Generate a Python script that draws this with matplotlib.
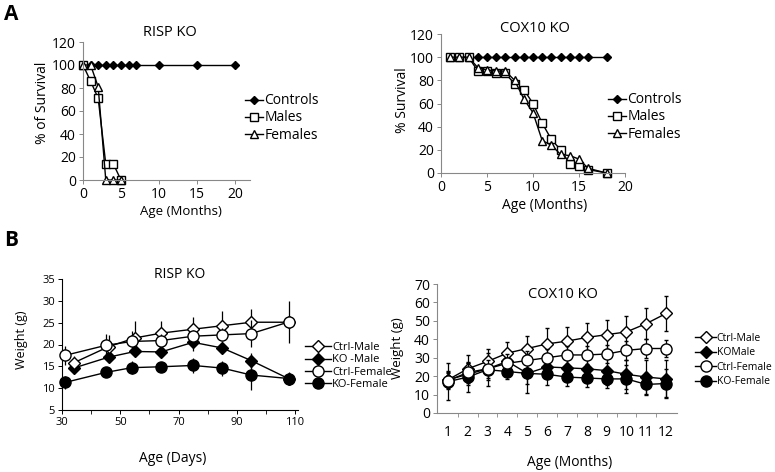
import matplotlib.pyplot as plt
import numpy as np
from matplotlib.lines import Line2D

plt.rcParams['font.family'] = ['Open Sans', 'DejaVu Sans']

# ---- A: survival ----
risp_ctrl_x = [0, 1, 2, 3, 4, 5, 6, 7, 10, 15, 20]
risp_ctrl_y = [100] * 11
risp_male_x = [0, 1, 2, 3, 4, 5]
risp_male_y = [100, 86, 71, 14, 14, 0]
risp_fem_x = [0, 1, 2, 3, 4, 5]
risp_fem_y = [100, 100, 81, 0, 0, 0]

cox_ctrl_x = list(range(1, 17)) + [18]
cox_ctrl_y = [100] * 17
cox_x = list(range(1, 17)) + [18]
cox_male_y = [100, 100, 100, 88, 88, 86, 86, 77, 72, 60, 43, 29, 20, 8, 6, 3, 0]
cox_fem_y = [100, 100, 100, 91, 89, 88, 88, 80, 64, 52, 28, 24, 16, 15, 12, 4, 0]

# ---- B: weights ----
risp_days_m = [34, 46, 55, 64, 75, 85, 95, 108]
risp_days_f = [31, 45, 54, 64, 75, 85, 95, 108]
risp_ctrl_m = [15.8, 19.5, 21.5, 22.6, 23.5, 24.3, 25.1, 25.1]
risp_ctrl_m_err = [1.6, 2.7, 3.9, 2.8, 2.9, 3.3, 3.0, 0.5]
risp_ko_m = [14.6, 17.1, 18.4, 18.3, 20.5, 19.2, 16.3, 12.1]
risp_ko_m_err = [0.8, 1.0, 0.9, 1.2, 2.0, 1.0, 1.8, 1.0]
risp_ctrl_f = [17.5, 19.8, 20.7, 20.9, 21.9, 22.2, 22.5, 25.2]
risp_ctrl_f_err = [2.2, 2.7, 2.4, 1.5, 1.5, 1.5, 3.0, 4.8]
risp_ko_f = [11.3, 13.6, 14.7, 14.9, 15.2, 14.6, 13.0, 12.2]
risp_ko_f_err = [1.5, 1.0, 1.5, 1.0, 1.8, 1.7, 3.5, 1.5]

months = list(range(1, 13))
cox_ctrl_m = [18, 24, 28, 32.5, 35, 37.5, 39, 41, 42.5, 44, 48.5, 54]
cox_ctrl_m_err = [4, 7.5, 6.5, 6, 7, 8.5, 7.5, 8, 8, 8.5, 8.5, 9.5]
cox_ko_m = [18, 21, 24, 28, 21.5, 25, 24.5, 24, 23, 21, 19.5, 18.5]
cox_ko_m_err = [5, 6, 6, 5, 6, 6, 6, 7, 8, 8, 9, 10]
cox_ctrl_f = [17.5, 22, 24, 27, 28.5, 30, 31.5, 31.5, 32, 34, 35, 35]
cox_ctrl_f_err = [4, 5, 5, 5, 5, 5, 5, 5, 5, 5, 5, 4.5]
cox_ko_f = [17, 19.5, 23.5, 22.5, 21.5, 21, 19.5, 19, 18.5, 18.5, 15.5, 16]
cox_ko_f_err = [10, 8, 9, 4, 10.5, 6, 5, 5, 5, 7.5, 6, 8]

W, H = 775, 472
fig = plt.figure(figsize=(W / 100, H / 100), dpi=100)


def box(l, t, r, b):
    return [l / W, 1 - b / H, (r - l) / W, (b - t) / H]


def ftext(x, y, s, **kw):
    fig.text(x / W, 1 - y / H, s, ha='center', va='center', **kw)


def style(ax, fs):
    for s in ['top', 'right']:
        ax.spines[s].set_visible(False)
    for s in ['left', 'bottom']:
        ax.spines[s].set_color('#888888')
        ax.spines[s].set_linewidth(0.8)
    ax.tick_params(labelsize=fs, length=3, width=0.7, color='#888888', pad=2)


# A left
ax1 = fig.add_axes(box(83, 42, 250, 180))
ax1.plot(risp_ctrl_x, risp_ctrl_y, marker='D', mfc='black', mec='black', ms=4.5, color='black', lw=1.0, label='Controls', clip_on=False)
ax1.plot(risp_male_x, risp_male_y, marker='s', mfc='white', mec='black', ms=6, color='black', lw=1.0, label='Males', clip_on=False)
ax1.plot(risp_fem_x, risp_fem_y, marker='^', mfc='white', mec='black', ms=6, color='black', lw=1.0, label='Females', clip_on=False)
ax1.set_xlim(0, 22)
ax1.set_ylim(0, 120)
ax1.set_xticks([0, 5, 10, 15, 20])
ax1.set_yticks(range(0, 121, 20))
style(ax1, 10)
ax1.legend(loc='center left', bbox_to_anchor=(238 / W, 1 - 118 / H), bbox_transform=fig.transFigure,
           frameon=False, fontsize=10, handlelength=1.3, handletextpad=0.1, labelspacing=0.15, borderpad=0)

# A right
ax2 = fig.add_axes(box(441, 34, 625, 173))
ax2.plot(cox_ctrl_x, cox_ctrl_y, marker='D', mfc='black', mec='black', ms=4.5, color='black', lw=1.0, label='Controls', clip_on=False)
ax2.plot(cox_x, cox_male_y, marker='s', mfc='white', mec='black', ms=6, color='black', lw=1.0, label='Males', clip_on=False)
ax2.plot(cox_x, cox_fem_y, marker='^', mfc='white', mec='black', ms=6, color='black', lw=1.0, label='Females', clip_on=False)
ax2.set_xlim(0, 20)
ax2.set_ylim(0, 120)
ax2.set_xticks([0, 5, 10, 15, 20])
ax2.set_yticks(range(0, 121, 20))
style(ax2, 10)
ax2.legend(loc='center left', bbox_to_anchor=(601 / W, 1 - 117 / H), bbox_transform=fig.transFigure,
           frameon=False, fontsize=10, handlelength=1.3, handletextpad=0.1, labelspacing=0.15, borderpad=0)

# B left
ax3 = fig.add_axes(box(62, 279, 298, 410))
eb = dict(color='black', lw=1.0, elinewidth=0.9, clip_on=False)
ax3.errorbar(risp_days_m, risp_ctrl_m, yerr=[np.zeros(8), risp_ctrl_m_err], marker='D', mfc='white', mec='black', ms=6, capsize=0, zorder=4, **eb)
ax3.errorbar(risp_days_m, risp_ko_m, yerr=risp_ko_m_err, marker='D', mfc='black', mec='black', ms=6, capsize=0, zorder=3, **eb)
ax3.errorbar(risp_days_f, risp_ctrl_f, yerr=risp_ctrl_f_err, marker='o', mfc='white', mec='black', ms=8, capsize=0, zorder=5, **eb)
ax3.errorbar(risp_days_f, risp_ko_f, yerr=risp_ko_f_err, marker='o', mfc='black', mec='black', ms=8, capsize=0, zorder=3, **eb)
ax3.set_xlim(30, 111)
ax3.set_ylim(5, 35)
ax3.set_xticks([30, 50, 70, 90, 110])
ax3.set_xticks(range(40, 111, 20), minor=True)
ax3.set_yticks(range(5, 36, 5))
style(ax3, 8)
for s in ['left', 'bottom']:
    ax3.spines[s].set_color('black')
ax3.tick_params(which='both', color='black', length=3)
h3 = [Line2D([], [], color='black', lw=1.0, marker='D', mfc='white', mec='black', ms=6),
      Line2D([], [], color='black', lw=1.0, marker='D', mfc='black', mec='black', ms=6),
      Line2D([], [], color='black', lw=1.0, marker='o', mfc='white', mec='black', ms=8),
      Line2D([], [], color='black', lw=1.0, marker='o', mfc='black', mec='black', ms=8)]
ax3.legend(h3, ['Ctrl-Male', 'KO -Male', 'Ctrl-Female', 'KO-Female'], loc='center left',
           bbox_to_anchor=(299 / W, 1 - 366 / H), bbox_transform=fig.transFigure,
           frameon=False, fontsize=8, handlelength=2.4, handletextpad=0.1, labelspacing=0.1, borderpad=0)

# B right
ax4 = fig.add_axes(box(437, 284, 677, 413))
ax4.errorbar(months, cox_ctrl_m, yerr=cox_ctrl_m_err, marker='D', mfc='white', mec='black', ms=6, capsize=1.5, zorder=4, **eb)
ax4.errorbar(months, cox_ko_m, yerr=cox_ko_m_err, marker='D', mfc='black', mec='black', ms=6, capsize=1.5, zorder=3, **eb)
ax4.errorbar(months, cox_ctrl_f, yerr=cox_ctrl_f_err, marker='o', mfc='white', mec='black', ms=8, capsize=1.5, zorder=5, **eb)
ax4.errorbar(months, cox_ko_f, yerr=cox_ko_f_err, marker='o', mfc='black', mec='black', ms=8, capsize=1.5, zorder=3, **eb)
ax4.set_xlim(0.45, 12.55)
ax4.set_ylim(0, 70)
ax4.set_xticks(months)
ax4.set_xticks(np.arange(1.5, 12, 1), minor=True)
ax4.set_yticks(range(0, 71, 10))
style(ax4, 10)
ax4.tick_params(axis='x', which='major', length=0, pad=9)
ax4.tick_params(axis='x', which='minor', length=3, color='#888888')
ax4.legend(h3, ['Ctrl-Male', 'KOMale', 'Ctrl-Female', 'KO-Female'], loc='center left',
           bbox_to_anchor=(690 / W, 1 - 360 / H), bbox_transform=fig.transFigure,
           frameon=False, fontsize=7.5, handlelength=2.0, handletextpad=0.05, labelspacing=0.35, borderpad=0)

# titles and labels
ftext(170, 32, 'RISP KO', fontsize=10.5)
ftext(535, 28, 'COX10 KO', fontsize=10.5)
ftext(180, 275, 'RISP KO', fontsize=10)
ftext(563, 295, 'COX10 KO', fontsize=10.5)
ftext(181, 212, 'Age (Months)', fontsize=9.5)
ftext(545, 205, 'Age (Months)', fontsize=10)
ftext(173, 458, 'Age (Days)', fontsize=10)
ftext(570, 463, 'Age (Months)', fontsize=10)
ftext(42, 103, '% of Survival', fontsize=10, rotation=90)
ftext(402, 100, '% Survival', fontsize=10, rotation=90)
ftext(22, 340, 'Weight (g)', fontsize=9, rotation=90)
ftext(398, 348, 'Weight (g)', fontsize=9.5, rotation=90)
fig.text(4 / W, 1 - 14 / H, 'A', fontsize=15, fontweight='bold', va='center')
fig.text(4 / W, 1 - 241 / H, 'B', fontsize=15, fontweight='bold', va='center')

fig.savefig('out.png', dpi=100)
